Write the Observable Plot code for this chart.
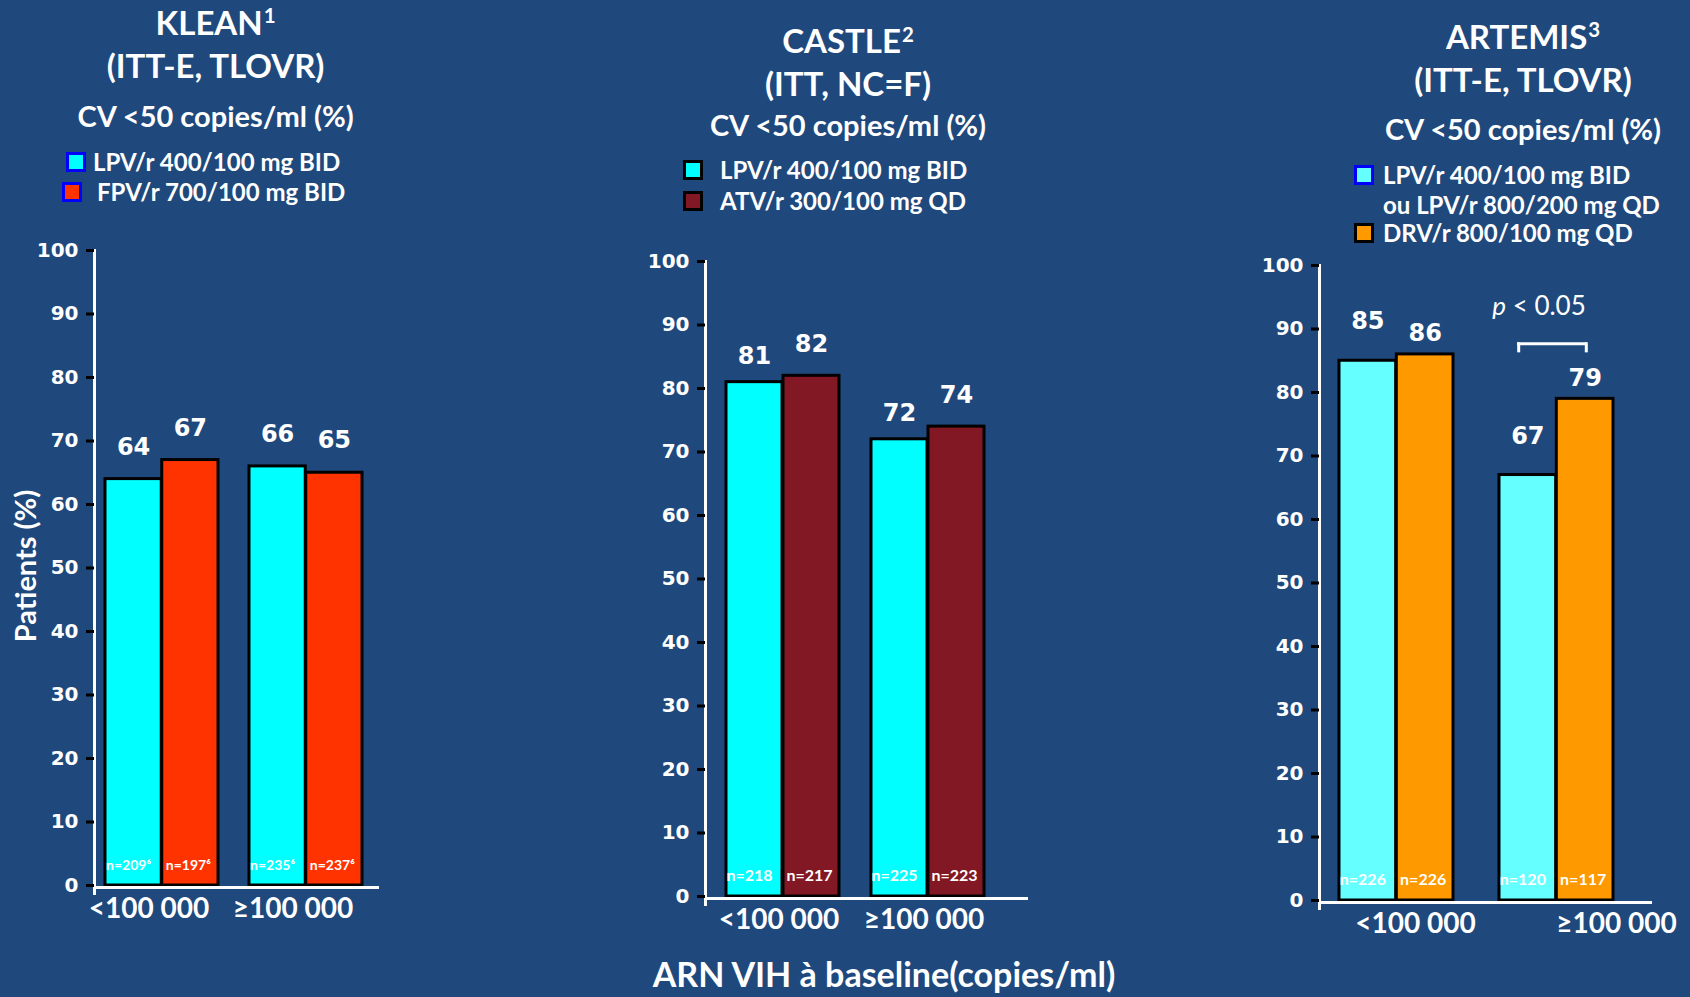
<!DOCTYPE html>
<html>
<head>
<meta charset="utf-8">
<script src="https://cdn.jsdelivr.net/npm/d3@7"></script>
<script src="https://cdn.jsdelivr.net/npm/@observablehq/plot@0.6"></script>
<style>
  html, body { margin: 0; padding: 0; background: #1f497d; }
  #page { position: relative; width: 1690px; height: 997px; background: #1f497d; overflow: hidden;
          font-family: Lato, "Open Sans", sans-serif; color: #fff; }
  .c { position: absolute; white-space: nowrap; font-weight: 700; transform: translate(-50%, -50%); line-height: 1; }
  .c sup { font-size: 0.62em; vertical-align: 0; position: relative; top: -0.55em; margin-left: 1px; }
  .l { position: absolute; white-space: nowrap; font-weight: 700; transform: translateY(-50%); line-height: 1; font-size: 24px; }
  .sw { position: absolute; box-sizing: border-box; width: 20px; height: 20px; transform: translateY(-50%); border: 3px solid; }
  .panel { position: absolute; }
  .panel svg { overflow: visible; background: transparent; }
</style>
</head>
<body>
<div id="page"></div>
<script>
// ---- data ----
const groups = ["<100 000", "≥100 000"];
const yTicks = [0, 10, 20, 30, 40, 50, 60, 70, 80, 90, 100];
const endpoint = "CV <50 copies/ml (%)";
const xTitle = "ARN VIH à baseline(copies/ml)";
const yTitle = "Patients (%)";

// KLEAN
const kleanName = ["KLEAN", "1"];          // study name, reference number
const kleanAnalysis = "(ITT-E, TLOVR)";
const kleanLegend = [["LPV/r 400/100 mg BID"], ["FPV/r 700/100 mg BID"]];
const kleanLpv = [64, 66];
const kleanFpv = [67, 65];
const kleanLpvN = ["n=209⁶", "n=235⁶"];
const kleanFpvN = ["n=197⁶", "n=237⁶"];
const kleanColors = ["#00ffff", "#ff3300"];
const kleanSwatchBorders = ["#0000ff", "#0000ff"];

// CASTLE
const castleName = ["CASTLE", "2"];
const castleAnalysis = "(ITT, NC=F)";
const castleLegend = [["LPV/r 400/100 mg BID"], ["ATV/r 300/100 mg QD"]];
const castleLpv = [81, 72];
const castleAtv = [82, 74];
const castleLpvN = ["n=218", "n=225"];
const castleAtvN = ["n=217", "n=223"];
const castleColors = ["#00ffff", "#821824"];
const castleSwatchBorders = ["#000000", "#000000"];

// ARTEMIS
const artemisName = ["ARTEMIS", "3"];
const artemisAnalysis = "(ITT-E, TLOVR)";
const artemisLegend = [["LPV/r 400/100 mg BID", "ou LPV/r 800/200 mg QD"], ["DRV/r 800/100 mg QD"]];
const artemisLpv = [85, 67];
const artemisDrv = [86, 79];
const artemisLpvN = ["n=226", "n=120"];
const artemisDrvN = ["n=226", "n=117"];
const artemisColors = ["#66ffff", "#ff9900"];
const artemisSwatchBorders = ["#0000ff", "#000000"];
const artemisPText = "< 0.05";

// ---- layout helpers ----
const page = document.getElementById("page");

function addDiv(cls, text, x, y, style = {}) {
  const el = document.createElement("div");
  el.className = cls;
  if (text != null) el.textContent = text;
  Object.assign(el.style, {left: x + "px", top: y + "px"}, style);
  page.appendChild(el);
  return el;
}

function header({name, analysis, cx, titleYs, cvY, legend, colors, borders, rows}) {
  const t = addDiv("c", name[0], cx, titleYs[0], {fontSize: "33px"});
  const sup = document.createElement("sup");
  sup.textContent = name[1];
  t.appendChild(sup);
  addDiv("c", analysis, cx, titleYs[1], {fontSize: "33px"});
  addDiv("c", endpoint, cx, cvY, {fontSize: "29px"});
  legend.forEach((lines, i) => {
    const r = rows[i];
    addDiv("sw", null, r.sw, r.y, {background: colors[i], borderColor: borders[i]});
    lines.forEach((line, j) => addDiv("l", line, r.tx[j], r.ys[j]));
  });
}

const FONT_NUM = "DejaVu Sans, Verdana, sans-serif";
const FONT_TXT = "Lato, 'Open Sans', sans-serif";

function panel(cfg) {
  const {left, top, width, height, margin, band, a, b, colors, valueDy, nSize, xDx, extra} = cfg;
  const [mt, mr, mb, ml] = margin;
  const rows = groups.map((g, i) => ({group: g, a: a.values[i], b: b.values[i], na: a.n[i], nb: b.n[i]}));
  const bw = d3.scaleBand().domain(groups).range([ml, width - mr])
    .paddingInner(band.inner).paddingOuter(band.outer).align(band.align).bandwidth();
  const barStyle = {stroke: "black", strokeWidth: 3};
  const valueStyle = {fill: "white", fontFamily: FONT_NUM, fontWeight: "bold", fontSize: 24};
  const nStyle = {fill: "white", fontFamily: FONT_TXT, fontWeight: "bold", fontSize: nSize, frameAnchor: "bottom", dy: -16};

  const chart = Plot.plot({
    width, height,
    marginTop: mt, marginRight: mr, marginBottom: mb, marginLeft: ml,
    style: {background: "transparent", overflow: "visible"},
    x: {domain: groups, paddingInner: band.inner, paddingOuter: band.outer, align: band.align},
    y: {domain: [0, 100]},
    marks: [
      Plot.barY(rows, {x: "group", y: "a", fill: colors[0], insetLeft: 0, insetRight: bw / 2, ...barStyle}),
      Plot.barY(rows, {x: "group", y: "b", fill: colors[1], insetLeft: bw / 2, insetRight: 0, ...barStyle}),
      Plot.ruleY([0], {stroke: "white", strokeWidth: 3, dy: 2}),
      Plot.frame({anchor: "left", stroke: "white", strokeWidth: 3, insetBottom: -8}),
      Plot.axisY(yTicks, {tickSize: 8, tickPadding: 8, stroke: "black", strokeWidth: 3, fill: "white",
        fontFamily: FONT_NUM, fontWeight: "bold", fontSize: 20, label: null}),
      ...groups.map((g, i) => Plot.axisX([g], {tickSize: 0, tickPadding: 13, dx: xDx[i], fill: "white",
        fontFamily: FONT_TXT, fontWeight: "bold", fontSize: 28, label: null})),
      Plot.text(rows, {x: "group", y: "a", text: (d) => String(d.a), dx: -bw / 4, dy: valueDy[0], ...valueStyle}),
      Plot.text(rows, {x: "group", y: "b", text: (d) => String(d.b), dx: bw / 4, dy: valueDy[1], ...valueStyle}),
      Plot.text(rows, {x: "group", text: "na", dx: -bw / 4 - 5, ...nStyle}),
      Plot.text(rows, {x: "group", text: "nb", dx: bw / 4 - 2, ...nStyle}),
      ...(extra ? extra(rows, bw) : [])
    ]
  });
  const holder = addDiv("panel", null, left, top);
  holder.appendChild(chart);
}

// ---- KLEAN ----
header({
  name: kleanName, analysis: kleanAnalysis, cx: 215.6, titleYs: [21.6, 64.7], cvY: 115.3,
  legend: kleanLegend, colors: kleanColors, borders: kleanSwatchBorders,
  rows: [{sw: 66, y: 161.7, tx: [93], ys: [161.7]}, {sw: 62, y: 191.8, tx: [97], ys: [191.8]}]
});
panel({
  left: 0, top: 230, width: 400, height: 700, margin: [20, 21, 45, 94],
  band: {inner: 0.2145, outer: 0.0934, align: 0.389},
  a: {values: kleanLpv, n: kleanLpvN}, b: {values: kleanFpv, n: kleanFpvN},
  colors: kleanColors, valueDy: [-32, -32], nSize: 14, xDx: [-13, -13]
});

// ---- CASTLE ----
header({
  name: castleName, analysis: castleAnalysis, cx: 848, titleYs: [40, 83], cvY: 124,
  legend: castleLegend, colors: castleColors, borders: castleSwatchBorders,
  rows: [{sw: 683, y: 170, tx: [720], ys: [170]}, {sw: 683, y: 200.5, tx: [720], ys: [200.5]}]
});
panel({
  left: 620, top: 230, width: 440, height: 711, margin: [31, 32, 45, 85],
  band: {inner: 0.2176, outer: 0.2172, align: 0.32},
  a: {values: castleLpv, n: castleLpvN}, b: {values: castleAtv, n: castleAtvN},
  colors: castleColors, valueDy: [-26, -31], nSize: 16, xDx: [-4, -4]
});

// ---- ARTEMIS ----
header({
  name: artemisName, analysis: artemisAnalysis, cx: 1523, titleYs: [35.6, 78.7], cvY: 128,
  legend: artemisLegend, colors: artemisColors, borders: artemisSwatchBorders,
  rows: [{sw: 1354, y: 174.6, tx: [1383, 1383], ys: [174.6, 204.8]}, {sw: 1354, y: 232.8, tx: [1383], ys: [232.8]}]
});
panel({
  left: 1240, top: 230, width: 450, height: 715, margin: [35, 38, 45, 79],
  band: {inner: 0.2855, outer: 0.1808, align: 0.345},
  a: {values: artemisLpv, n: artemisLpvN}, b: {values: artemisDrv, n: artemisDrvN},
  colors: artemisColors, valueDy: [-39, -21], nSize: 16, xDx: [19, 60],
  // significance bracket over the ≥100 000 pair
  extra: (rows, bw) => {
    const pair = rows.filter((d) => d.group === groups[1]);
    const top = (d) => Math.max(d.a, d.b);
    const line = {stroke: "white", strokeWidth: 3};
    return [
      Plot.ruleY(pair, {x1: "group", x2: "group", y: top, insetLeft: 18, insetRight: 26, dy: -55, ...line}),
      Plot.ruleX(pair, {x: "group", y1: top, y2: top, dx: -bw / 2 + 19.5, dy: -51, insetTop: -5, insetBottom: -5, ...line}),
      Plot.ruleX(pair, {x: "group", y1: top, y2: top, dx: bw / 2 - 27.5, dy: -51, insetTop: -5, insetBottom: -5, ...line})
    ];
  }
});
const pLabel = addDiv("c", null, 1539, 305, {fontSize: "26px", fontWeight: "400"});
const pItalic = document.createElement("i");
pItalic.textContent = "p";
pLabel.appendChild(pItalic);
pLabel.appendChild(document.createTextNode(" " + artemisPText));

// ---- shared axis titles ----
addDiv("c", xTitle, 884, 974, {fontSize: "34px", lineHeight: "1.15"});
addDiv("c", yTitle, 23.7, 566, {fontSize: "29px", transform: "translate(-50%, -50%) rotate(-90deg)"});
</script>
</body>
</html>
